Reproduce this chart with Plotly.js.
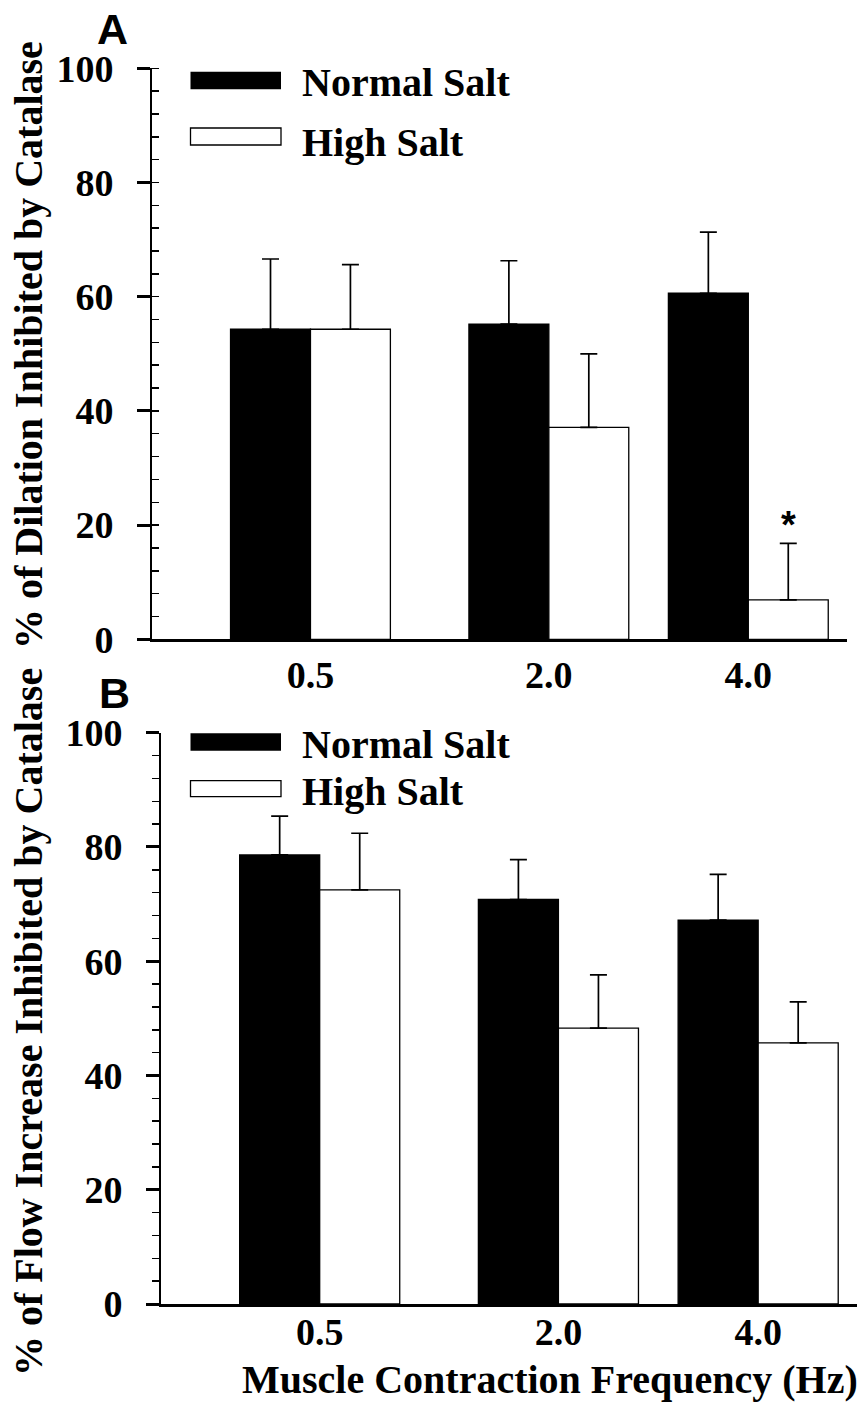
<!DOCTYPE html>
<html>
<head>
<meta charset="utf-8">
<script src="https://cdn.plot.ly/plotly-3.0.1.min.js"></script>
<style>
  html, body { margin: 0; padding: 0; background: #fff; }
  #chart { width: 863px; height: 1403px; }
</style>
</head>
<body>
<div id="chart"></div>
<script>
// Muscle contraction frequencies (Hz)
const categories = ['0.5', '2.0', '4.0'];
const seriesNames = ['Normal Salt', 'High Salt'];

// Panel A: % of dilation inhibited by catalase (mean, SE)
const dilationNormal = [54.3, 55.2, 60.6];
const dilationNormalSE = [12.3, 11.1, 10.7];
const dilationHigh = [54.3, 37.1, 6.9];
const dilationHighSE = [11.3, 12.9, 9.9];

// Panel B: % of flow increase inhibited by catalase (mean, SE)
const flowNormal = [78.6, 70.8, 67.2];
const flowNormalSE = [6.8, 7.0, 8.0];
const flowHigh = [72.5, 48.3, 45.7];
const flowHighSE = [9.9, 9.3, 7.2];

// Significant difference marker (panel A, high salt at 4.0 Hz)
const sigIndex = 2;

// Y axis tick values
const yTicks = [0, 20, 40, 60, 80, 100];

// ---- layout constants ----
const W = 863, H = 1403;
const slotPos = [22.8, 57.1, 85.8];   // group centres on a 0-100 x scale
const barW = 11.5;
const serif = 'Liberation Serif, Times New Roman, serif';
const sans = 'Liberation Sans, Arial, sans-serif';
const px = v => v / W;
const py = v => 1 - v / H;

function barTrace(name, y, se, fill, xa, ya, offset) {
  return {
    type: 'bar', name: name,
    x: slotPos, y: y,
    xaxis: xa, yaxis: ya,
    width: barW, offset: offset,
    marker: { color: fill, line: { color: '#000', width: 1.3 } },
    error_y: {
      type: 'data', symmetric: false,
      array: se, arrayminus: se.map(() => 0),
      color: '#000', thickness: 1.7, width: 8.5
    },
    showlegend: false,
    hoverinfo: 'skip'
  };
}

const traces = [
  barTrace(seriesNames[0], dilationNormal, dilationNormalSE, '#000', 'x', 'y', -barW),
  barTrace(seriesNames[1], dilationHigh, dilationHighSE, '#fff', 'x', 'y', 0),
  barTrace(seriesNames[0], flowNormal, flowNormalSE, '#000', 'x2', 'y2', -barW),
  barTrace(seriesNames[1], flowHigh, flowHighSE, '#fff', 'x2', 'y2', 0)
];

function yAxis(domain, minorSide) {
  return {
    domain: domain, range: [0, 100], fixedrange: true,
    showgrid: false, zeroline: false,
    showline: true, linecolor: '#000', linewidth: 2,
    ticks: 'outside', ticklen: 13, tickwidth: 3, tickcolor: '#000',
    tickmode: 'array', tickvals: yTicks, ticktext: yTicks.map(String),
    ticklabelstandoff: 16,
    tickfont: { family: serif, size: 38, color: '#000', weight: 'bold' },
    minor: { dtick: 4, ticks: minorSide, ticklen: 7, tickwidth: 1.5, tickcolor: '#000', showgrid: false }
  };
}

function xAxis(domain, anchor, standoff) {
  return {
    domain: domain, range: [0, 100], anchor: anchor, fixedrange: true,
    showgrid: false, zeroline: false,
    showline: true, linecolor: '#000', linewidth: 3,
    ticks: '', tickmode: 'array', tickvals: slotPos, ticktext: categories,
    ticklabelstandoff: standoff,
    tickfont: { family: serif, size: 38, color: '#000', weight: 'bold' }
  };
}

const shapes = [];
const annotations = [];

// legend boxes and labels for each panel
function legend(rows) {
  rows.forEach((r, i) => {
    shapes.push({
      type: 'rect', xref: 'paper', yref: 'paper',
      x0: px(190.5), x1: px(281), y0: py(r.y0), y1: py(r.y1),
      fillcolor: i === 0 ? '#000' : '#fff',
      line: { color: '#000', width: i === 0 ? 0 : 1.3 }
    });
    annotations.push({
      xref: 'paper', yref: 'paper', x: px(300), y: py(r.ty),
      xanchor: 'left', yanchor: 'middle', showarrow: false,
      text: seriesNames[i],
      font: { family: serif, size: 40, color: '#000', weight: 'bold' }
    });
  });
}
legend([{ y0: 71.7, y1: 89.3, ty: 83 }, { y0: 128, y1: 145, ty: 142 }]);
legend([{ y0: 733.3, y1: 750.7, ty: 744 }, { y0: 780.7, y1: 796.7, ty: 791 }]);

// panel letters
annotations.push({
  xref: 'paper', yref: 'paper', x: px(112.5), y: py(29), xanchor: 'center', yanchor: 'middle',
  showarrow: false, text: 'A', font: { family: sans, size: 43, color: '#000', weight: 'bold' }
});
annotations.push({
  xref: 'paper', yref: 'paper', x: px(114.5), y: py(693), xanchor: 'center', yanchor: 'middle',
  showarrow: false, text: 'B', font: { family: sans, size: 43, color: '#000', weight: 'bold' }
});

// axis titles
annotations.push({
  xref: 'paper', yref: 'paper', x: px(28), y: py(345), xanchor: 'center', yanchor: 'middle',
  textangle: -90, showarrow: false, text: '% of Dilation Inhibited by Catalase',
  font: { family: serif, size: 40, color: '#000', weight: 'bold' }
});
annotations.push({
  xref: 'paper', yref: 'paper', x: px(28), y: py(1022), xanchor: 'center', yanchor: 'middle',
  textangle: -90, showarrow: false, text: '% of Flow Increase Inhibited by Catalase',
  font: { family: serif, size: 40, color: '#000', weight: 'bold' }
});
annotations.push({
  xref: 'paper', yref: 'paper', x: px(550), y: py(1379), xanchor: 'center', yanchor: 'middle',
  showarrow: false, text: 'Muscle Contraction Frequency (Hz)', borderpad: 0,
  font: { family: serif, size: 40, color: '#000', weight: 'bold' }
});

// significance asterisk above the high salt bar
annotations.push({
  xref: 'x', yref: 'y',
  x: slotPos[sigIndex] + barW / 2,
  y: dilationHigh[sigIndex] + dilationHighSE[sigIndex],
  xanchor: 'center', yanchor: 'bottom', yshift: -5,
  showarrow: false, text: '*',
  font: { family: sans, size: 38, color: '#000', weight: 'bold' }
});

const layout = {
  width: W, height: H,
  margin: { l: 0, r: 0, t: 0, b: 0 },
  paper_bgcolor: '#fff', plot_bgcolor: 'rgba(0,0,0,0)',
  barmode: 'overlay',
  showlegend: false,
  xaxis: xAxis([152 / W, 847 / W], 'y', 0),
  yaxis: Object.assign(yAxis([1 - 639.3 / H, 1 - 68.3 / H], 'inside'), { anchor: 'x' }),
  xaxis2: xAxis([161 / W, 857 / W], 'y2', -8),
  yaxis2: Object.assign(yAxis([1 - 1304 / H, 1 - 732.7 / H], 'outside'), { anchor: 'x2' }),
  shapes: shapes,
  annotations: annotations
};

Plotly.newPlot('chart', traces, layout, { staticPlot: true, displayModeBar: false });
</script>
</body>
</html>
